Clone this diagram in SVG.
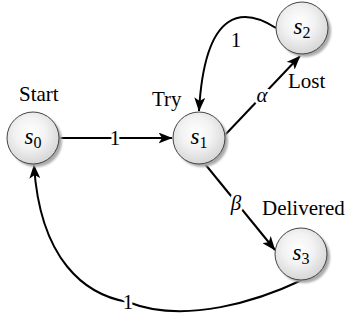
<svg xmlns="http://www.w3.org/2000/svg" width="346" height="320" viewBox="0 0 346 320">
<style>
.node{fill:url(#g);stroke:#444;stroke-width:1}
.shadow{fill:#aaa;filter:url(#blur)}
.lbl{font-family:"Liberation Serif",serif;font-size:21px;fill:#000}
.st{font-family:"Liberation Serif",serif;font-size:23px;fill:#000;text-anchor:middle}
.sub{font-style:normal;font-size:16px}
.edge{fill:none;stroke:#000;stroke-width:2}
.el{font-family:"Liberation Serif",serif;font-size:21px;fill:#000;text-anchor:middle;stroke:#fff;stroke-width:6px;paint-order:stroke;stroke-linejoin:round}
</style>
<defs>
<radialGradient id="g" cx="0.45" cy="0.4" r="0.6">
<stop offset="0" stop-color="#ffffff"/>
<stop offset="0.5" stop-color="#f2f2f2"/>
<stop offset="1" stop-color="#d6d6d6"/>
</radialGradient>
<filter id="blur" x="-20%" y="-20%" width="140%" height="140%"><feGaussianBlur stdDeviation="1.2"/></filter>
<marker id="arr" markerUnits="userSpaceOnUse" viewBox="0 0 14 11" markerWidth="14" markerHeight="11" refX="13.5" refY="5.5" orient="auto">
<path d="M0,0 L14,5.5 L0,11 L3.5,5.5 z" fill="#000"/>
</marker>
</defs>
<rect width="346" height="320" fill="#fff"/>
<g id="connectors">
<line class="edge" x1="59" y1="138" x2="172" y2="138" marker-end="url(#arr)"/>
<text class="el" x="115" y="145">1</text>
<line class="edge" x1="225" y1="135" x2="300" y2="56" marker-end="url(#arr)"/>
<text class="el" x="262" y="102" font-style="italic">α</text>
<path class="edge" d="M276,28 C245,8 205,5 199,111" marker-end="url(#arr)"/>
<text class="el" x="236" y="47">1</text>
<line class="edge" x1="205" y1="164" x2="275" y2="250" marker-end="url(#arr)"/>
<text class="el" x="236" y="210" font-style="italic">β</text>
<path class="edge" d="M302,280 C260,300 185,325 128,302 C85,295 40,260 34,165" marker-end="url(#arr)"/>
<text class="el" x="128" y="309">1</text>
</g>
<g id="s0">
<circle class="shadow" cx="36" cy="141" r="26"/>
<circle class="node" cx="33" cy="138" r="26"/>
<text class="st" x="33" y="144"><tspan font-style="italic">s</tspan><tspan class="sub" dy="4">0</tspan></text>
<text class="lbl" x="19" y="101">Start</text>
</g>
<g id="s1">
<circle class="shadow" cx="202" cy="141" r="26"/>
<circle class="node" cx="199" cy="138" r="26"/>
<text class="st" x="199" y="144"><tspan font-style="italic">s</tspan><tspan class="sub" dy="4">1</tspan></text>
<text class="lbl" x="152" y="106">Try</text>
</g>
<g id="s2">
<circle class="shadow" cx="305" cy="31" r="26"/>
<circle class="node" cx="302" cy="28" r="26"/>
<text class="st" x="302" y="34"><tspan font-style="italic">s</tspan><tspan class="sub" dy="4">2</tspan></text>
<text class="lbl" x="288" y="88">Lost</text>
</g>
<g id="s3">
<circle class="shadow" cx="304" cy="257" r="26"/>
<circle class="node" cx="301" cy="254" r="26"/>
<text class="st" x="301" y="260"><tspan font-style="italic">s</tspan><tspan class="sub" dy="4">3</tspan></text>
<text class="lbl" x="262" y="215">Delivered</text>
</g>
</svg>
